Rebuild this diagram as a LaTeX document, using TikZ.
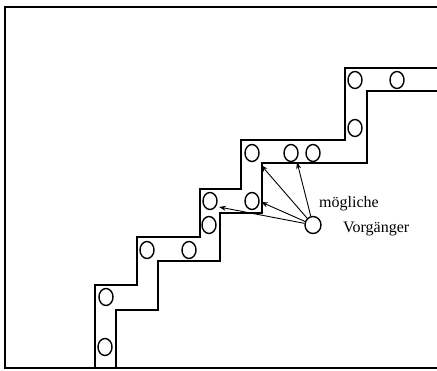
\documentclass[tikz,border=0pt]{standalone}
\usepackage{fontspec}
\setmainfont{Liberation Serif}
\usetikzlibrary{arrows.meta,shapes.geometric}

\begin{document}
\begin{tikzpicture}[x=1pt,y=-1pt,
  cell/.style={draw,ellipse,line width=1.4pt,minimum width=14pt,minimum height=17pt,inner sep=0pt},
  link/.style={line width=.9pt,-{Stealth[length=7pt,width=5pt]}},
  lbl/.style={font=\fontsize{16}{19}\selectfont,anchor=base west,inner sep=0pt}]
\useasboundingbox (0,0) rectangle (437,370);
% frame
\draw[line width=1.2pt] (437,7) -- (5,7) -- (5,368) -- (437,368);
% staircase corridor
\draw[line width=1.2pt] (95,368) |- (137,285) |- (200,237) |- (241,189) |- (345,140) |- (437,68);
\draw[line width=1.2pt] (116,368) |- (158,310) |- (220,261) |- (262,213) |- (367,163) |- (437,91);
% cells along the corridor
\foreach \x/\y [count=\i] in {105/347,106/297,147/250,189/250,209/225,210/201,252/201,252/153,291/153,313/153,355/128,355/80,397/80}
  \node[cell] (c\i) at (\x,\y) {};
% current cell and its possible predecessors
\node[cell,minimum width=16pt] (cur) at (313,225) {};
\coordinate (t1) at (261,165);
\coordinate (t2) at (297,162);
\coordinate (t3) at (261,202);
\coordinate (t4) at (219,207);
\foreach \t in {t1,t2,t3,t4}
  \draw[link] (cur) -- (\t);
\node[lbl] (m) at (319,207) {mögliche};
\node[lbl] (v) at (343,232) {Vorgänger};
\end{tikzpicture}
\end{document}
